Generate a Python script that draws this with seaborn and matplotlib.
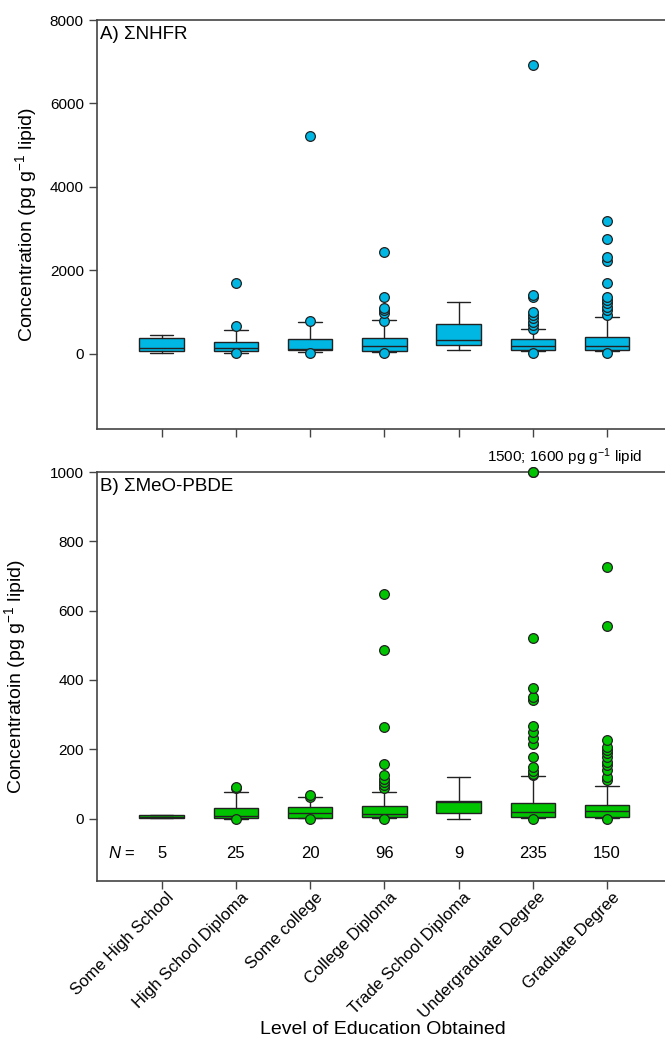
import numpy as np
import pandas as pd
import matplotlib
matplotlib.use("Agg")
import matplotlib.pyplot as plt
import matplotlib.transforms as mtrans
import seaborn as sns

sns.set_style("ticks")
plt.rcParams['font.family'] = ['Liberation Sans', 'DejaVu Sans']
plt.rcParams['mathtext.fontset'] = 'custom'
plt.rcParams['mathtext.rm'] = 'Liberation Sans'
plt.rcParams['mathtext.it'] = 'Liberation Sans:italic'
for k in ['text.color', 'axes.labelcolor', 'xtick.color', 'ytick.color',
          'xtick.labelcolor', 'ytick.labelcolor']:
    plt.rcParams[k] = 'black'

categories = ["Some High School", "High School Diploma", "Some college",
              "College Diploma", "Trade School Diploma", "Undergraduate Degree",
              "Graduate Degree"]
n_counts = [5, 25, 20, 96, 9, 235, 150]

# Panel A: ΣNHFR (pg/g lipid)
nhfr_whislo = [16, 24, 56, 56, 96, 64, 64]
nhfr_q1 = [64, 64, 103, 72, 207, 103, 103]
nhfr_med = [136, 136, 120, 199, 342, 199, 199]
nhfr_q3 = [382, 294, 366, 390, 725, 358, 414]
nhfr_whishi = [447, 573, 775, 804, 1243, 597, 877]
nhfr_outliers = [
    [],
    [10, 676, 1704],
    [10, 789, 5210],
    [10, 796, 972, 1051, 1092, 1355, 2437],
    [],
    [10, 590, 693, 772, 852, 932, 1011, 1370, 1418, 6922],
    [10, 932, 1051, 1131, 1211, 1290, 1355, 1704, 2222, 2318, 2756, 3178],
]

# Panel B: ΣMeO-PBDE (pg/g lipid)
meo_whislo = [1, 0, 1, 2, 0, 2, 3]
meo_q1 = [2, 1, 3, 5, 16, 5, 6]
meo_med = [5, 8, 15, 13.5, 47, 20, 21]
meo_q3 = [9.6, 30, 33, 37.5, 50, 45, 40]
meo_whishi = [10.6, 78, 61, 78, 120, 124, 93]
meo_outliers = [
    [],
    [0, 87, 91],
    [0, 61, 69],
    [0, 87, 96, 106, 115, 125, 157, 263, 487, 647],
    [],
    [0, 125, 130, 138, 149, 178, 214, 233, 250, 266, 343, 351, 377, 521, 1500, 1600],
    [0, 111, 120, 139, 154, 164, 178, 188, 197, 207, 226, 556, 727],
]

blue = "#00B6E2"
green = "#00C400"

W, H = 665, 1042
fig = plt.figure(figsize=(W / 100, H / 100), dpi=100)
ax_a = fig.add_axes([97 / W, 1 - 429 / H, (W - 97) / W + 0.01, 409 / H])
ax_b = fig.add_axes([97 / W, 1 - 881 / H, (W - 97) / W + 0.01, 409 / H])

def draw_panel(ax, whislo, q1, med, q3, whishi, outliers, color, ymax_clip=None):
    stats = []
    for i in range(len(categories)):
        stats.append(dict(whislo=whislo[i], q1=q1[i], med=med[i], q3=q3[i],
                          whishi=whishi[i], fliers=[]))
    rows = []
    for i, vals in enumerate(outliers):
        for v in vals:
            rows.append((categories[i], v if ymax_clip is None else min(v, ymax_clip)))
    df = pd.DataFrame(rows, columns=["cat", "val"])
    ax.bxp(stats, positions=range(len(categories)), widths=0.6, capwidths=0.32,
           patch_artist=True, showfliers=False,
           boxprops=dict(facecolor=color, edgecolor="#222222", linewidth=1.0),
           medianprops=dict(color="#222222", linewidth=1.0),
           whiskerprops=dict(color="#222222", linewidth=1.0),
           capprops=dict(color="#222222", linewidth=1.0))
    sns.stripplot(data=df, x="cat", y="val", order=categories, jitter=False,
                  ax=ax, color=color, size=7, linewidth=0.9, edgecolor="#222222",
                  zorder=5, clip_on=False)
    ax.set_xlim(-0.87, 6.87)
    ax.set_xticks(range(len(categories)))
    for s in ["left", "bottom", "top"]:
        ax.spines[s].set_color("#444444")
        ax.spines[s].set_linewidth(1.2)
    ax.spines["right"].set_visible(False)
    ax.tick_params(axis="both", direction="out", length=6, width=1.0,
                   color="#444444", labelsize=11)
    ax.set_xlabel("")

draw_panel(ax_a, nhfr_whislo, nhfr_q1, nhfr_med, nhfr_q3, nhfr_whishi,
           nhfr_outliers, blue)
ax_a.set_ylim(-1800, 8000)
ax_a.set_yticks([0, 2000, 4000, 6000, 8000])
ax_a.set_xticklabels([])
ax_a.set_ylabel("Concentration (pg g$^{-1}$ lipid)", fontsize=14, labelpad=8)
ax_a.text(0.006, 0.985, "A) ΣNHFR", transform=ax_a.transAxes, ha="left", va="top",
          fontsize=13.5)

draw_panel(ax_b, meo_whislo, meo_q1, meo_med, meo_q3, meo_whishi,
           meo_outliers, green, ymax_clip=1000)
ax_b.set_ylim(-180, 1000)
ax_b.set_yticks([0, 200, 400, 600, 800, 1000])
ax_b.set_xticklabels(categories, rotation=45, ha="right", va="center",
                     rotation_mode="anchor", fontsize=12)
ax_b.tick_params(axis="x", pad=4)
shift = mtrans.ScaledTranslation(10 / 100, 0, fig.dpi_scale_trans)
for lab in ax_b.get_xticklabels():
    lab.set_transform(lab.get_transform() + shift)
ax_b.set_ylabel("Concentratoin (pg g$^{-1}$ lipid)", fontsize=14, labelpad=16)
ax_b.text(0.006, 0.985, "B) ΣMeO-PBDE", transform=ax_b.transAxes, ha="left", va="top",
          fontsize=13.5)
ax_b.text(5.43, 1012, "1500; 1600 pg g$^{-1}$ lipid", ha="center", va="bottom",
          fontsize=11, clip_on=False)
ax_b.text(-0.35, -100, "$\\it{N}$ =", ha="right", va="center", fontsize=12)
for i, n in enumerate(n_counts):
    ax_b.text(i, -100, str(n), ha="center", va="center", fontsize=12)

fig.text(383 / W, 1 - 1030 / H, "Level of Education Obtained", ha="center",
         va="center", fontsize=14)

fig.savefig("out.png", dpi=100)
